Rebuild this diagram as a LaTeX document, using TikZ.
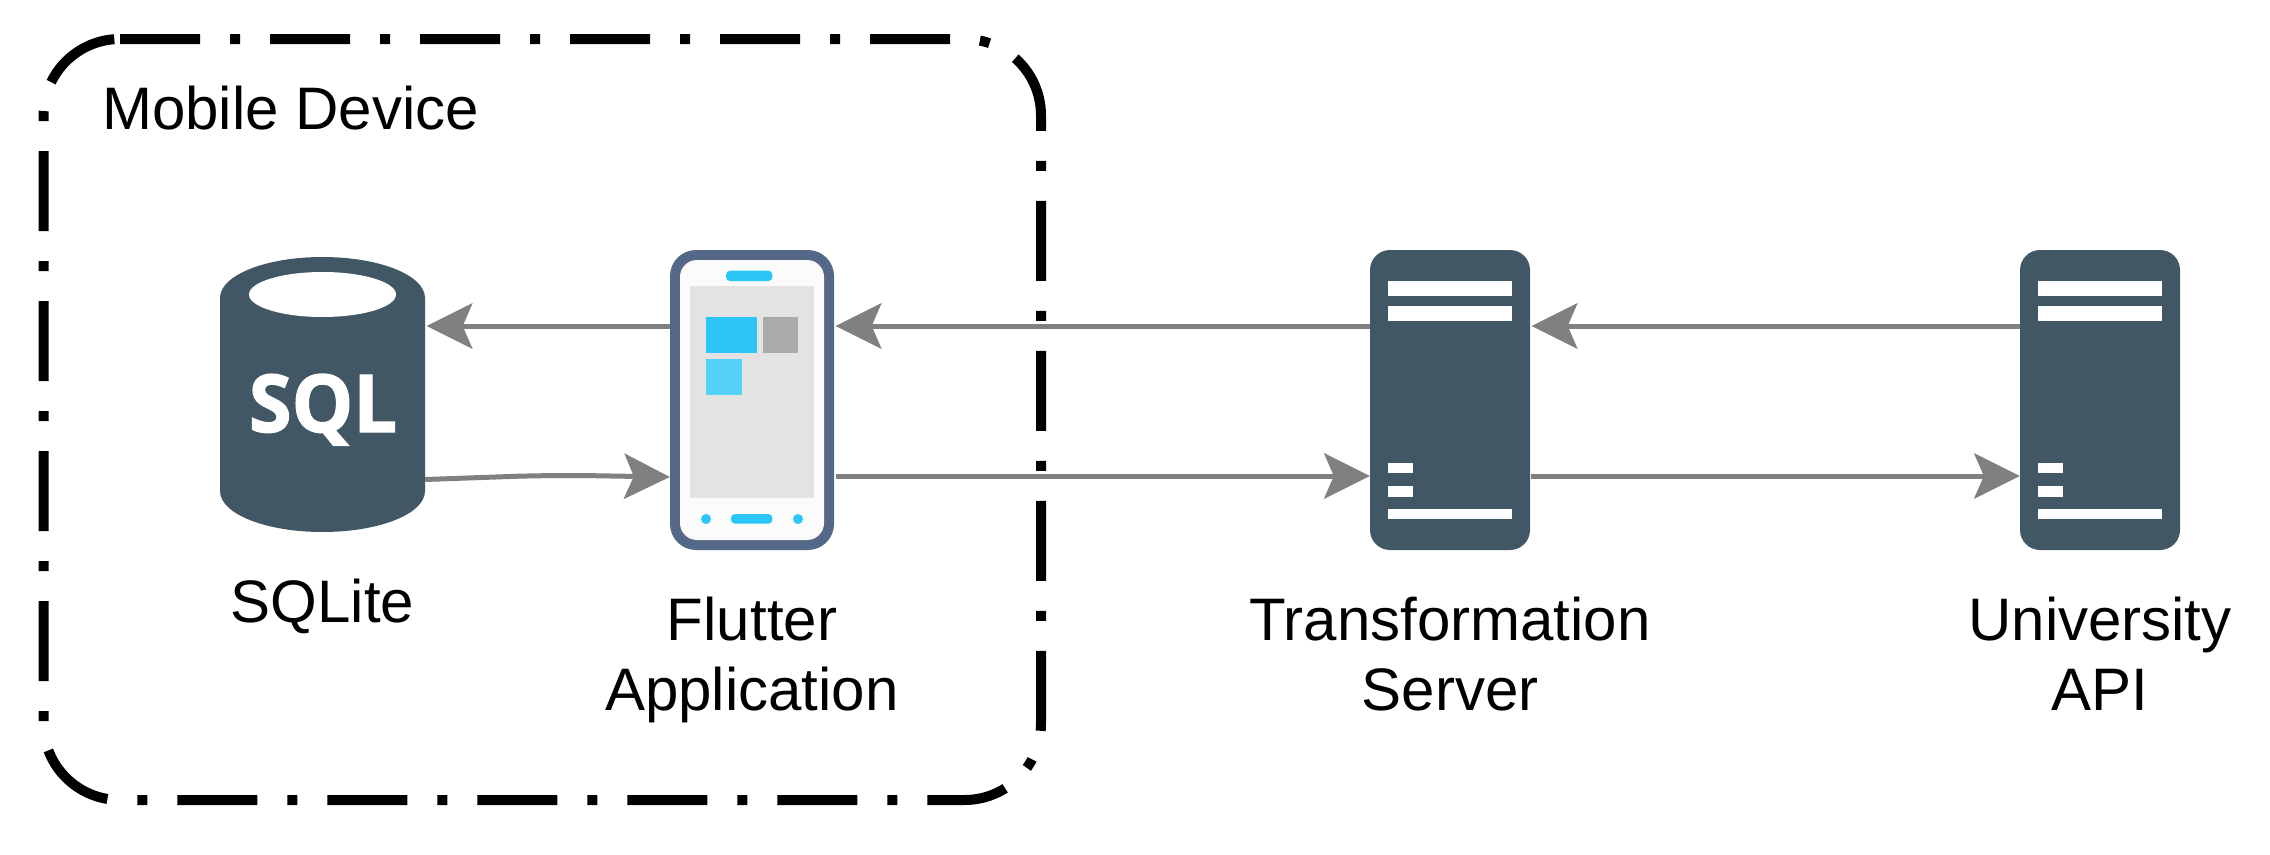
\documentclass[tikz,border=0pt]{standalone}
\usepackage{fontspec}
\setmainfont{Liberation Sans}
\newfontfamily\sqlfont[BoldFeatures={FakeBold=1.6}]{Open Sans}
\usetikzlibrary{arrows.meta,calc}
\definecolor{slate}{HTML}{415765}
\definecolor{frame}{HTML}{56688A}
\definecolor{conn}{HTML}{808080}
\definecolor{tileblue}{HTML}{2BC6F7}
\definecolor{tilelight}{HTML}{55D0F8}
\definecolor{tilegrey}{HTML}{AAAAAA}
\definecolor{screen}{HTML}{E3E3E3}
\definecolor{bezel}{HTML}{FBFBFB}
\tikzset{
  label text/.style={font=\fontsize{60}{70}\selectfont,inner sep=0pt,text=black,anchor=base},
  device/.style={draw=black,line width=10pt,dash pattern=on 80pt off 30pt on 10pt off 30pt,rounded corners=76.5pt},
  server box/.style={fill=slate,rounded corners=20pt,minimum width=160pt,minimum height=300pt,inner sep=0pt},
  bar/.style={fill=white},
  conn line/.style={draw=conn,line width=5pt,-{Stealth[length=46pt,width=46pt,inset=10pt,line width=0pt]}},
}
\newcommand{\serverbars}[1]{%
  \fill[bar] ($(#1.north west)+(18,30.7)$) rectangle ($(#1.north west)+(142,46.3)$);
  \fill[bar] ($(#1.north west)+(18,56)$) rectangle ($(#1.north west)+(142,71.3)$);
  \fill[bar] ($(#1.north west)+(18,212.7)$) rectangle ($(#1.north west)+(43,223.3)$);
  \fill[bar] ($(#1.north west)+(18,236)$) rectangle ($(#1.north west)+(43,246.7)$);
  \fill[bar] ($(#1.north west)+(18,259)$) rectangle ($(#1.north west)+(142,269.3)$);
}
\begin{document}
\begin{tikzpicture}[x=1pt,y=-1pt]
\useasboundingbox (0,0) rectangle (2270,854);
% mobile device frame
\draw[device] (120,39) -- (1041,39) -- (1041,800) -- (43.5,800) -- (43.5,39) -- (120,39);
\node[label text,anchor=base west] (devlabel) at (102,129) {Mobile Device};
% SQLite cylinder
\node[minimum width=205pt,minimum height=275pt,inner sep=0pt] (sqlite) at (322.5,394.5) {};
\fill[slate] (220,298) .. controls (220,275) and (266,257) .. (322.5,257) .. controls (379,257) and (425,275) .. (425,298)
  -- (425,491) .. controls (425,514) and (379,532) .. (322.5,532) .. controls (266,532) and (220,514) .. (220,491) -- cycle;
\fill[white] (322.5,294.5) ellipse [x radius=73.5,y radius=22.5];
\node[text=white,inner sep=0pt,anchor=base,xscale=0.97,font=\sqlfont\bfseries\fontsize{80}{80}\selectfont] (sqltext) at (323,432) {SQL};
% phone
\node[fill=frame,rounded corners=26pt,minimum width=164pt,minimum height=300pt,inner sep=0pt] (phone) at (752,400) {};
\fill[bezel,rounded corners=17pt] (680,260) rectangle (824,540);
\fill[screen] (690,286) rectangle (813.5,497.7);
\fill[tileblue] (706,317) rectangle (757,353);
\fill[tilegrey] (762.6,317) rectangle (798,353);
\fill[tilelight] (706,358.7) rectangle (741.6,394.7);
\fill[tileblue,rounded corners=4pt] (726,270.7) rectangle (772.4,281);
\fill[tileblue,rounded corners=4pt] (731,514) rectangle (772.4,523.7);
\fill[tileblue] (706,519) ellipse [x radius=5,y radius=5];
\fill[tileblue] (798,519) ellipse [x radius=5,y radius=5];
% servers
\node[server box] (trans) at (1450,400) {};
\node[server box] (api) at (2100,400) {};
\serverbars{trans}
\serverbars{api}
% connector levels
\coordinate (up) at (0,326);
\coordinate (lo) at (0,476);
\coordinate (bend) at (552,475);
\draw[conn line] (phone.west |- up) -- ($(sqlite.east |- up)+(1.5,0)$);
\draw[conn line,rounded corners=40pt] ($(sqlite.east |- lo)+(0,3.5)$) -- (bend) -- ($(phone.west |- lo)+(0,1)$);
\draw[conn line] (trans.west |- up) -- ($(phone.east |- up)+(1.5,0)$);
\draw[conn line] ($(phone.east |- lo)+(2,0)$) -- (trans.west |- lo);
\draw[conn line] (api.west |- up) -- ($(trans.east |- up)+(1.5,0)$);
\draw[conn line] ($(trans.east |- lo)+(1,0)$) -- (api.west |- lo);
% labels
\node[label text] (l1) at (322.5,622) {SQLite};
\node[label text] (l2a) at (752,640) {Flutter};
\node[label text] (l2b) at (752,710) {Application};
\node[label text] (l3a) at (1450,640) {Transformation};
\node[label text] (l3b) at (1450,710) {Server};
\node[label text] (l4a) at (2100,640) {University};
\node[label text] (l4b) at (2100,710) {API};
\end{tikzpicture}
\end{document}
